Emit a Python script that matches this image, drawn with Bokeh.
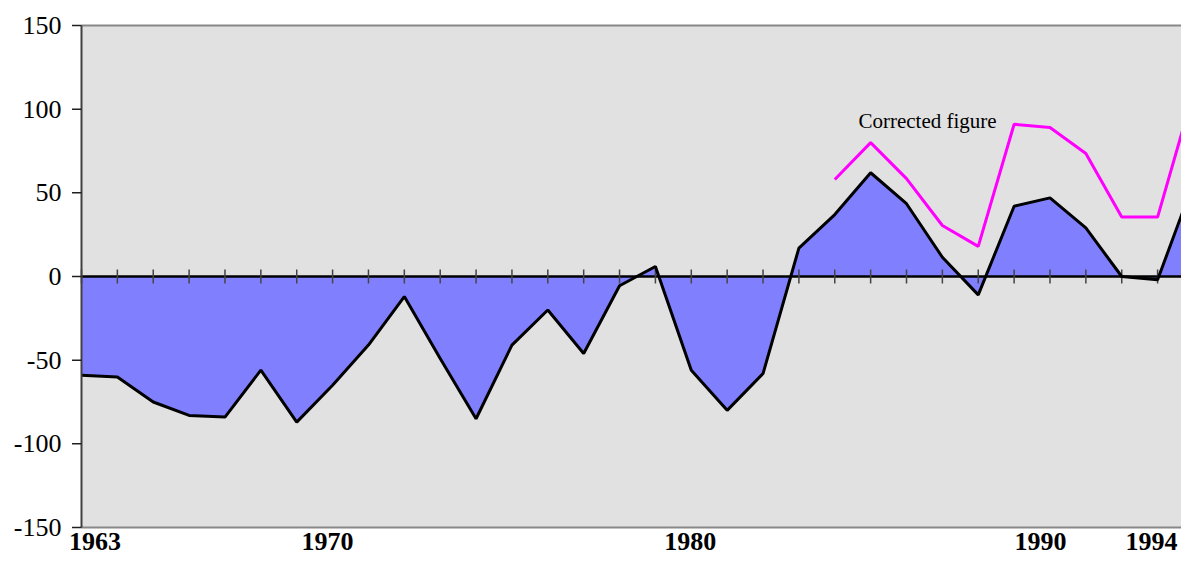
import numpy as np
from bokeh.plotting import figure
from bokeh.models import Range1d, Label
from bokeh.core.properties import value
from bokeh.embed import file_html
from bokeh.resources import INLINE

# ---- data ----
years = list(range(1963, 1995))
balance = [-59, -60, -75, -83, -84, -56, -87, -65, -41, -12, -49, -85, -41, -20, -46, -5.5,
           6, -56, -80, -58, 17, 37, 62, 43.5, 11.5, -11, 42, 47, 29, 0, -2, 56]
corr_years = list(range(1984, 1995))
corrected = [58, 80, 58.5, 30.5, 18, 91, 89, 73.5, 35.5, 35.5, 110]
y_ticks = [-150, -100, -50, 0, 50, 100, 150]
y_tick_labels = ["-150", "-100", "-50", "0", "50", "100", "150"]
x_label_years = [1963, 1970, 1980, 1990, 1994]
x_label_text = ["1963", "1970", "1980", "1990", "1994"]
x_label_offsets = [13.5, -5, -1, -9.5, -42]
annotation_text = "Corrected figure"

SERIF = "Liberation Serif"

# ---- layout (pixels) ----
W, H = 1181, 555
FRAME_LEFT, FRAME_TOP = 81, 25
PX_YEAR = 35.87
PX_UNIT = 502 / 300.0
x_start = years[0] - FRAME_LEFT / PX_YEAR
y_end = y_ticks[-1] + FRAME_TOP / PX_UNIT

p = figure(width=W, height=H, output_backend="svg", toolbar_location=None,
           x_range=Range1d(x_start, x_start + W / PX_YEAR),
           y_range=Range1d(y_end - H / PX_UNIT, y_end),
           x_axis_type=None, y_axis_type=None, min_border=0,
           background_fill_color="white", border_fill_color="white")
p.outline_line_color = None
p.xgrid.visible = False
p.ygrid.visible = False

x_lo, x_hi = years[0], years[-1] + 1
y_lo, y_hi = y_ticks[0], y_ticks[-1]

# plot area background
p.quad(left=x_lo, right=x_hi, bottom=y_lo, top=y_hi, fill_color="#e1e1e1", line_color=None)

# top / bottom frame lines
p.segment(x0=[x_lo, x_lo], y0=[y_hi, y_lo], x1=[x_hi, x_hi], y1=[y_hi, y_lo],
          line_color="#888888", line_width=2)

# area
p.varea(x=years, y1=[0] * len(years), y2=balance, fill_color="#8080ff")

# zero line and its ticks
p.line(x=[x_lo, x_hi], y=[0, 0], line_color="black", line_width=2.5)
p.scatter(x=years, y=[0] * len(years), marker="dash", angle=np.pi / 2, size=14,
          line_color="#444444", line_width=1.5)

# lines
p.line(x=corr_years, y=corrected, line_color="#ff00ff", line_width=3)
p.line(x=years, y=balance, line_color="black", line_width=3)

# left value axis
p.segment(x0=[x_lo], y0=[y_lo], x1=[x_lo], y1=[y_hi], line_color="#404040", line_width=2)
p.segment(x0=[x_lo - 9.5 / PX_YEAR] * len(y_ticks), y0=y_ticks,
          x1=[x_lo] * len(y_ticks), y1=y_ticks, line_color="#202020", line_width=1.5)
p.text(x=[x_lo] * len(y_ticks), y=y_ticks, text=y_tick_labels, x_offset=-20,
       text_font=value(SERIF), text_font_size="26px", text_align="right",
       text_baseline="middle", text_color="black")

# annotation
p.add_layout(Label(x=1984.66, y=93, text=annotation_text, text_font=SERIF,
                   text_font_size="21px", text_color="black", text_baseline="alphabetic"))

# year labels
p.text(x=x_label_years, y=[y_lo] * len(x_label_years), text=x_label_text,
       x_offset=x_label_offsets, y_offset=14,
       text_font=value(SERIF), text_font_size="26px", text_font_style="bold",
       text_align="center", text_baseline="middle", text_color="black")

open("out.html", "w").write(file_html(p, INLINE))
